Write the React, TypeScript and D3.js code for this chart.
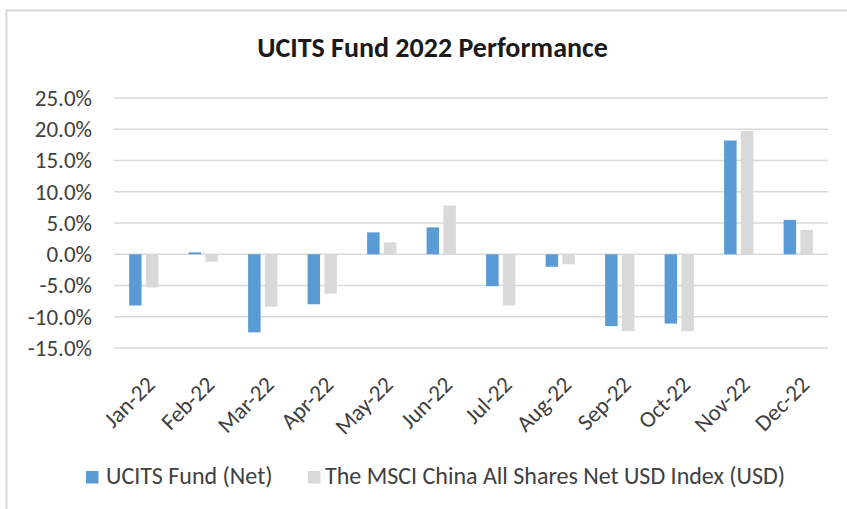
import { useEffect, useRef } from 'react';
import * as d3 from 'd3';

const months = ['Jan-22', 'Feb-22', 'Mar-22', 'Apr-22', 'May-22', 'Jun-22', 'Jul-22', 'Aug-22', 'Sep-22', 'Oct-22', 'Nov-22', 'Dec-22'];
const fundNet = [-8.2, 0.3, -12.5, -8.0, 3.5, 4.3, -5.1, -2.0, -11.5, -11.1, 18.2, 5.5];
const msciIndex = [-5.3, -1.2, -8.4, -6.3, 1.9, 7.8, -8.2, -1.6, -12.3, -12.3, 19.7, 3.9];
const seriesNames = ['UCITS Fund (Net)', 'The MSCI China All Shares Net USD Index (USD)'];
const seriesColors = ['#5b9bd5', '#d9d9d9'];
const yTicks = [-15, -10, -5, 0, 5, 10, 15, 20, 25];

const FONT = "Carlito, Calibri, 'Open Sans', sans-serif";

const App = () => {
    const svgRef = useRef<SVGSVGElement>(null);

    useEffect(() => {
        const svg = d3.select(svgRef.current);
        const width = 847;
        const height = 509;

        svg.selectAll('*').remove();

        // chart area border
        svg.append('rect')
            .attr('x', 6.5)
            .attr('y', 10.5)
            .attr('width', width + 20)
            .attr('height', height + 20)
            .attr('fill', 'white')
            .attr('stroke', '#d9d9d9')
            .attr('stroke-width', 2);

        svg.append('text')
            .attr('x', 432.5)
            .attr('y', 56.5)
            .attr('text-anchor', 'middle')
            .style('font-family', FONT)
            .style('font-size', '28px')
            .style('font-weight', 'bold')
            .style('fill', '#1a1a1a')
            .text('UCITS Fund 2022 Performance');

        const x0 = d3.scaleBand()
            .domain(months)
            .range([114, 828])
            .padding(0);

        const bw = x0.bandwidth();
        const x1 = d3.scaleBand()
            .domain(seriesNames)
            .range([bw * 0.254, bw * 0.746])
            .paddingInner(0.256);

        const y = d3.scaleLinear()
            .domain([-15, 25])
            .range([348, 98]);

        // gridlines
        svg.append('g')
            .selectAll('line')
            .data(yTicks)
            .join('line')
            .attr('x1', 114)
            .attr('x2', 828)
            .attr('y1', d => y(d))
            .attr('y2', d => y(d))
            .attr('stroke', '#d9d9d9')
            .attr('stroke-width', 1.5);

        // y axis labels
        const yAxis = svg.append('g')
            .attr('transform', 'translate(100,0)')
            .call(d3.axisLeft(y).tickValues(yTicks).tickSize(0).tickPadding(8).tickFormat(d => (d as number).toFixed(1) + '%'));
        yAxis.select('.domain').remove();
        yAxis.selectAll('text')
            .style('font-family', FONT)
            .style('font-size', '23px')
            .style('fill', '#404040');

        const rows = months.map((m, i) => ({ month: m, values: [fundNet[i], msciIndex[i]] }));

        svg.append('g')
            .selectAll('g')
            .data(rows)
            .join('g')
            .attr('transform', d => `translate(${x0(d.month)},0)`)
            .selectAll('rect')
            .data(d => d.values.map((v, j) => ({ key: seriesNames[j], value: v, color: seriesColors[j] })))
            .join('rect')
            .attr('x', d => x1(d.key)!)
            .attr('width', x1.bandwidth())
            .attr('y', d => y(Math.max(0, d.value)))
            .attr('height', d => Math.abs(y(d.value) - y(0)))
            .attr('fill', d => d.color);

        // x axis labels
        const xAxis = svg.append('g')
            .attr('transform', 'translate(0,386)')
            .call(d3.axisBottom(x0).tickSize(0).tickPadding(0));
        xAxis.select('.domain').remove();
        xAxis.selectAll('text')
            .attr('y', 0)
            .attr('dy', 0)
            .attr('x', 0)
            .attr('text-anchor', 'end')
            .attr('transform', 'translate(12.5,0) rotate(-45)')
            .style('font-family', FONT)
            .style('font-size', '23px')
            .style('fill', '#404040');

        // legend
        const legend = svg.append('g');
        const legendX = [86, 308];
        seriesNames.forEach((name, i) => {
            legend.append('rect')
                .attr('x', legendX[i])
                .attr('y', 471)
                .attr('width', 12.5)
                .attr('height', 12.5)
                .attr('fill', seriesColors[i]);
            legend.append('text')
                .attr('x', legendX[i] + (i === 0 ? 20 : 17))
                .attr('y', 484)
                .style('font-family', FONT)
                .style('font-size', '24px')
                .style('fill', '#404040')
                .text(name);
        });
    }, []);

    return (
        <div style={{ position: 'absolute', left: 0, top: 0 }}>
            <svg ref={svgRef} width="847" height="509" style={{ display: 'block', background: '#fff' }}></svg>
        </div>
    );
};

export default App;
